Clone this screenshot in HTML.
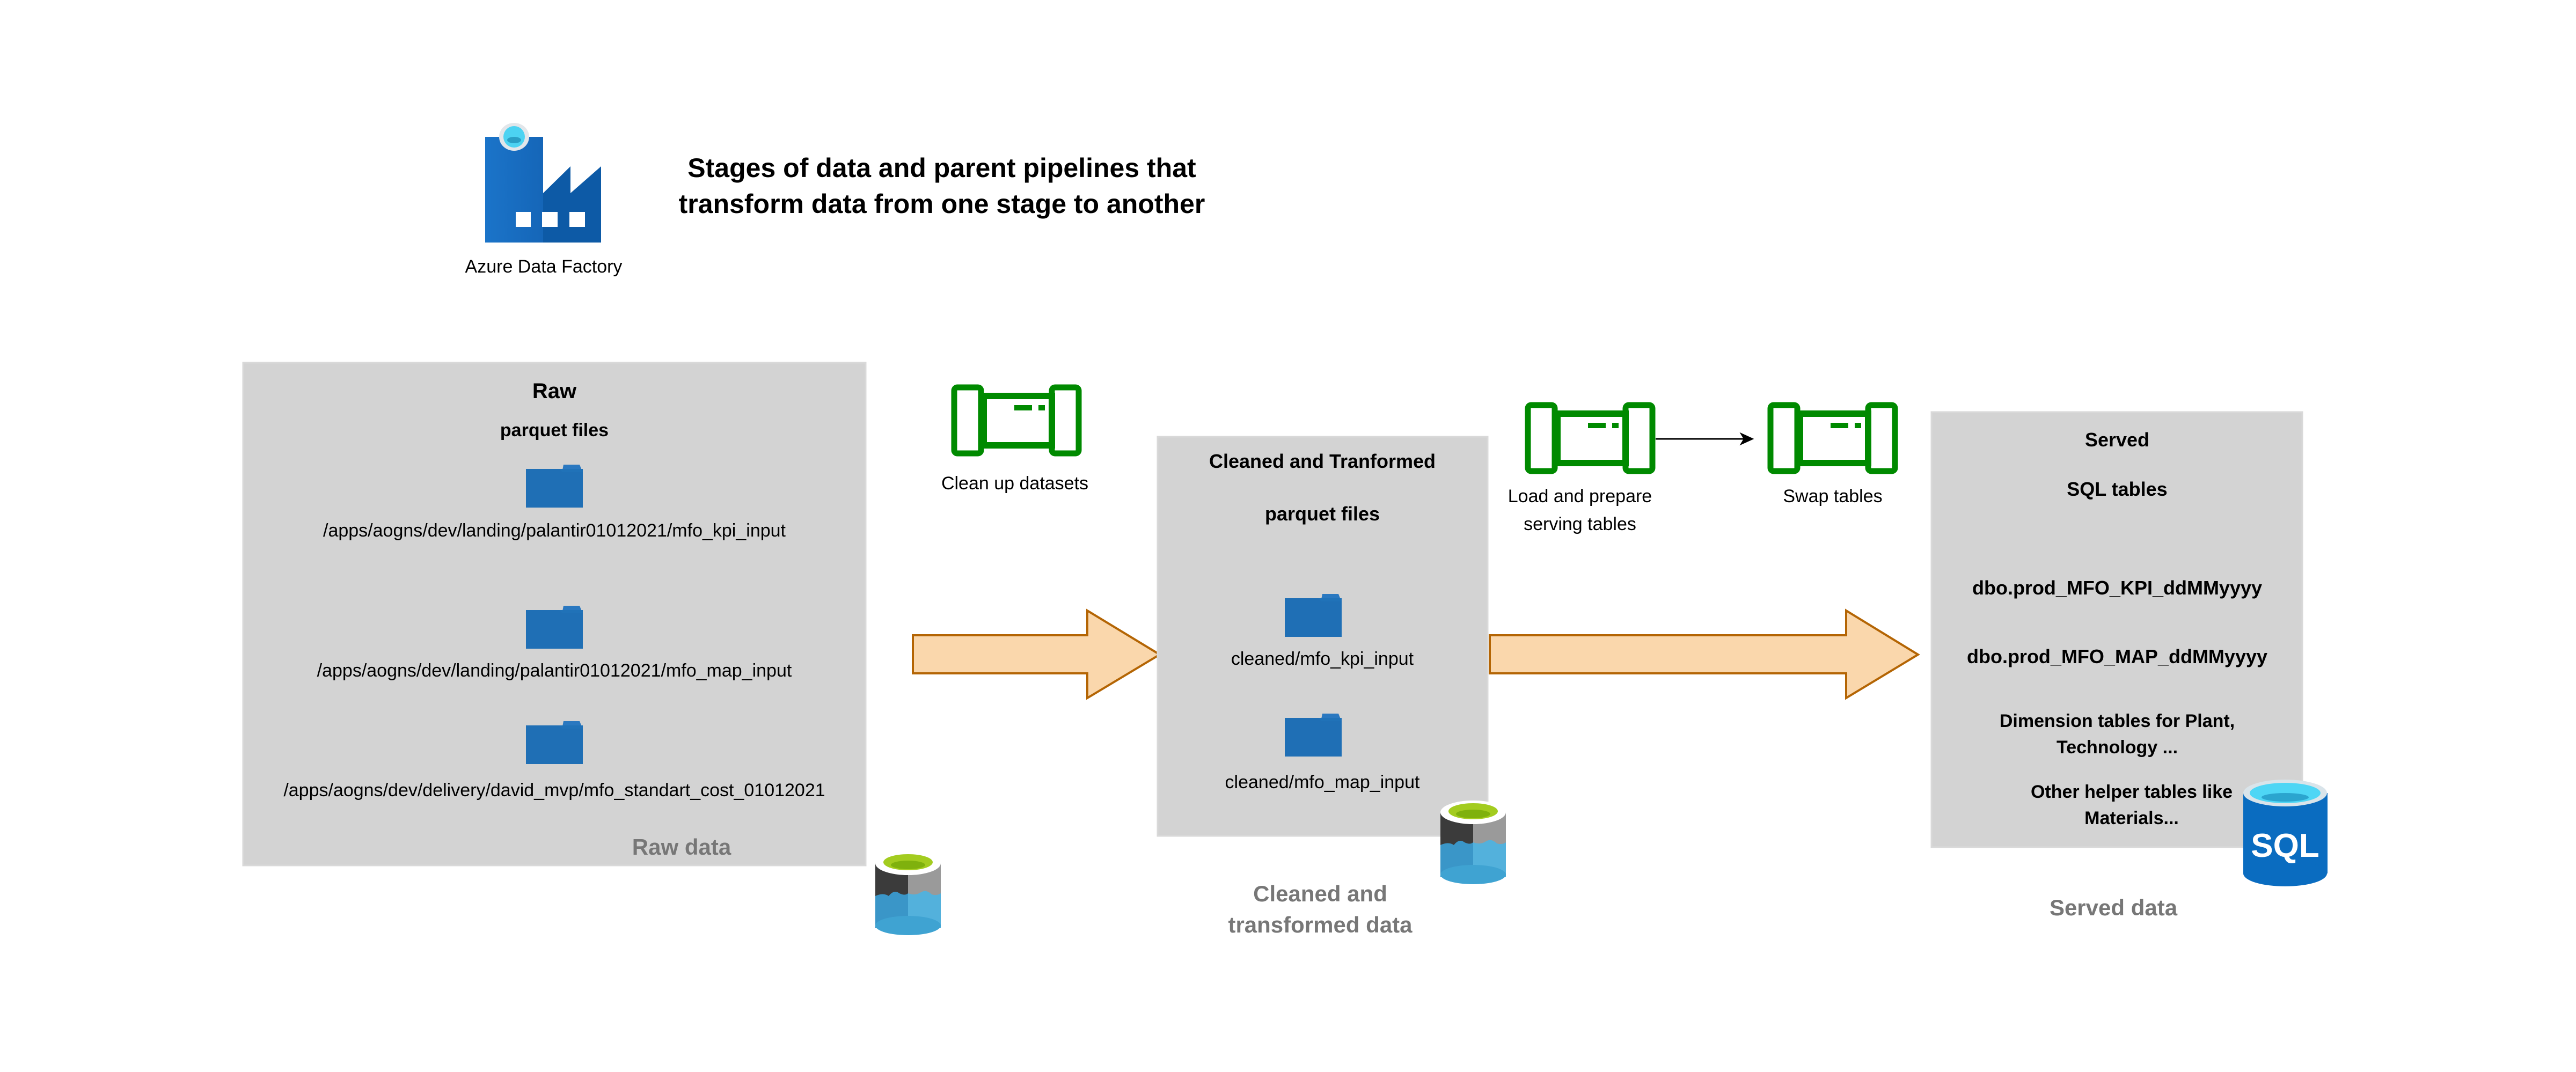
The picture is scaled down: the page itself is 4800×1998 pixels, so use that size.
<!DOCTYPE html>
<html><head><meta charset="utf-8"><style>
html,body{margin:0;padding:0;background:#fff}
svg{display:block}
text{font-family:"Liberation Sans",Arial,sans-serif}
</style></head><body>
<svg width="4800" height="1998" viewBox="0 0 4800 1998" xmlns="http://www.w3.org/2000/svg">
<defs>
<g id="pipe">
  <rect x="5" y="5" width="50" height="123" rx="6" fill="#fff" stroke="#008a00" stroke-width="11"/>
  <rect x="187" y="5" width="50" height="123" rx="6" fill="#fff" stroke="#008a00" stroke-width="11"/>
  <rect x="60" y="21" width="127" height="92" fill="#fff" stroke="#008a00" stroke-width="12"/>
  <rect x="117" y="38" width="33" height="10" fill="#008a00"/>
  <rect x="162" y="38" width="12" height="10" fill="#008a00"/>
</g>
<g id="folder">
  <path d="M70 0 L100 0 L104 10 L68 10 Z" fill="#2a78c0"/>
  <rect x="0" y="8" width="106" height="72" fill="#2072b8"/>
  <path d="M0 8 L62 8 L68 14 L106 14 L106 80 L0 80 Z" fill="#1f6fb5"/>
</g>
<g id="lake">
  <rect x="0" y="24" width="61" height="112" fill="#3b3b3b"/>
  <rect x="61" y="24" width="61" height="112" fill="#9a9a9a"/>
  <path d="M0 85 Q15 78 25 85 Q35 72 45 80 Q55 85 61 80 L61 145 L0 145 Z" fill="#3a96c8"/>
  <path d="M61 80 Q75 85 85 78 Q95 72 105 82 Q115 85 122 80 L122 145 L61 145 Z" fill="#53b1dc"/>
  <ellipse cx="61" cy="140" rx="61" ry="18" fill="#3fa3d2"/>
  <ellipse cx="61" cy="24" rx="61" ry="22" fill="#fff"/>
  <ellipse cx="61" cy="22" rx="46" ry="15" fill="#a3cc1f"/>
  <ellipse cx="61" cy="27" rx="32" ry="8" fill="#7fb10d"/>
</g>
<linearGradient id="col" x1="0" x2="1" y1="0" y2="0">
  <stop offset="0" stop-color="#1b74c9"/><stop offset="1" stop-color="#1566b8"/>
</linearGradient>
</defs>

<!-- ADF icon -->
<rect x="904" y="255" width="108" height="197" fill="url(#col)"/>
<path d="M1012 360 L1063 310 L1063 360 L1120 310 L1120 452 L1012 452 Z" fill="#0d5aa6"/>
<ellipse cx="958" cy="255" rx="28" ry="26" fill="#e2e6ea"/>
<ellipse cx="958" cy="255" rx="20" ry="20" fill="#4cd3f2"/>
<ellipse cx="958" cy="261" rx="13" ry="6" fill="#2a9fc5"/>
<rect x="961" y="395" width="28" height="28" fill="#fff"/>
<rect x="1010" y="395" width="29" height="28" fill="#fff"/>
<rect x="1061" y="395" width="29" height="28" fill="#fff"/>
<text x="1013" y="508" font-size="34" text-anchor="middle" fill="#000">Azure Data Factory</text>

<text x="1755" y="330" font-size="50" font-weight="bold" text-anchor="middle">Stages of data and parent pipelines that</text>
<text x="1755" y="397" font-size="50" font-weight="bold" text-anchor="middle">transform data from one stage to another</text>

<!-- Raw box -->
<rect x="453" y="676" width="1160" height="937" fill="#d3d3d3" stroke="#d9d9d9" stroke-width="3"/>
<text x="1033" y="742" font-size="40" font-weight="bold" text-anchor="middle">Raw</text>
<text x="1033" y="813" font-size="34" font-weight="bold" text-anchor="middle">parquet files</text>
<use href="#folder" x="980" y="866"/>
<text x="1033" y="1000" font-size="34" text-anchor="middle">/apps/aogns/dev/landing/palantir01012021/mfo_kpi_input</text>
<use href="#folder" x="980" y="1129"/>
<text x="1033" y="1261" font-size="34" text-anchor="middle">/apps/aogns/dev/landing/palantir01012021/mfo_map_input</text>
<use href="#folder" x="980" y="1344"/>
<text x="1033" y="1484" font-size="34" text-anchor="middle">/apps/aogns/dev/delivery/david_mvp/mfo_standart_cost_01012021</text>
<text x="1270" y="1593" font-size="42" font-weight="bold" fill="#777" text-anchor="middle">Raw data</text>
<use href="#lake" x="1631" y="1585"/>

<!-- Arrow 1 -->
<path d="M1701 1184 L2026 1184 L2026 1138 L2161 1220 L2026 1301 L2026 1255 L1701 1255 Z" fill="#fad7ac" stroke="#b46504" stroke-width="4"/>

<use href="#pipe" x="1773" y="717"/>
<text x="1891" y="912" font-size="34" text-anchor="middle">Clean up datasets</text>

<!-- Cleaned box -->
<rect x="2157" y="814" width="615" height="744" fill="#d3d3d3" stroke="#d9d9d9" stroke-width="3"/>
<text x="2464" y="872" font-size="36" font-weight="bold" text-anchor="middle">Cleaned and Tranformed</text>
<text x="2464" y="970" font-size="36" font-weight="bold" text-anchor="middle">parquet files</text>
<use href="#folder" x="2394" y="1107"/>
<text x="2464" y="1239" font-size="34" text-anchor="middle">cleaned/mfo_kpi_input</text>
<use href="#folder" x="2394" y="1330"/>
<text x="2464" y="1469" font-size="34" text-anchor="middle">cleaned/mfo_map_input</text>
<use href="#lake" x="2684" y="1490"/>
<text x="2460" y="1680" font-size="42" font-weight="bold" fill="#777" text-anchor="middle">Cleaned and</text>
<text x="2460" y="1738" font-size="42" font-weight="bold" fill="#777" text-anchor="middle">transformed data</text>

<!-- Arrow 2 -->
<path d="M2776 1184 L3440 1184 L3440 1138 L3574 1220 L3440 1301 L3440 1255 L2776 1255 Z" fill="#fad7ac" stroke="#b46504" stroke-width="4"/>

<use href="#pipe" x="2842" y="750"/>
<text x="2944" y="936" font-size="34" text-anchor="middle">Load and prepare</text>
<text x="2944" y="988" font-size="34" text-anchor="middle">serving tables</text>
<line x1="3085" y1="818" x2="3250" y2="818" stroke="#000" stroke-width="3"/>
<path d="M3266 818 L3244 808 L3250 818 L3244 828 Z" fill="#000" stroke="#000" stroke-width="2"/>
<use href="#pipe" x="3294" y="750"/>
<text x="3415" y="936" font-size="34" text-anchor="middle">Swap tables</text>

<!-- Served box -->
<rect x="3599" y="768" width="691" height="811" fill="#d3d3d3" stroke="#d9d9d9" stroke-width="3"/>
<text x="3945" y="832" font-size="36" font-weight="bold" text-anchor="middle">Served</text>
<text x="3945" y="924" font-size="36" font-weight="bold" text-anchor="middle">SQL tables</text>
<text x="3945" y="1108" font-size="36" font-weight="bold" text-anchor="middle">dbo.prod_MFO_KPI_ddMMyyyy</text>
<text x="3945" y="1236" font-size="36" font-weight="bold" text-anchor="middle">dbo.prod_MFO_MAP_ddMMyyyy</text>
<text x="3945" y="1355" font-size="34" font-weight="bold" text-anchor="middle">Dimension tables for Plant,</text>
<text x="3945" y="1404" font-size="34" font-weight="bold" text-anchor="middle">Technology ...</text>
<text x="3972" y="1487" font-size="34" font-weight="bold" text-anchor="middle">Other helper tables like</text>
<text x="3972" y="1536" font-size="34" font-weight="bold" text-anchor="middle">Materials...</text>

<!-- SQL cylinder -->
<rect x="4180" y="1478" width="157" height="150" fill="#0a6cc0"/>
<ellipse cx="4258" cy="1628" rx="78" ry="24" fill="#0a6cc0"/>
<ellipse cx="4258" cy="1478" rx="78" ry="25" fill="#d9e4ea"/>
<ellipse cx="4258" cy="1478" rx="66" ry="19" fill="#4ed6f5"/>
<ellipse cx="4258" cy="1486" rx="44" ry="8" fill="#2ba5cf"/>
<text x="4258" y="1597" font-size="62" font-weight="bold" fill="#fff" text-anchor="middle">SQL</text>
<text x="3938" y="1706" font-size="42" font-weight="bold" fill="#777" text-anchor="middle">Served data</text>
</svg>
</body></html>
